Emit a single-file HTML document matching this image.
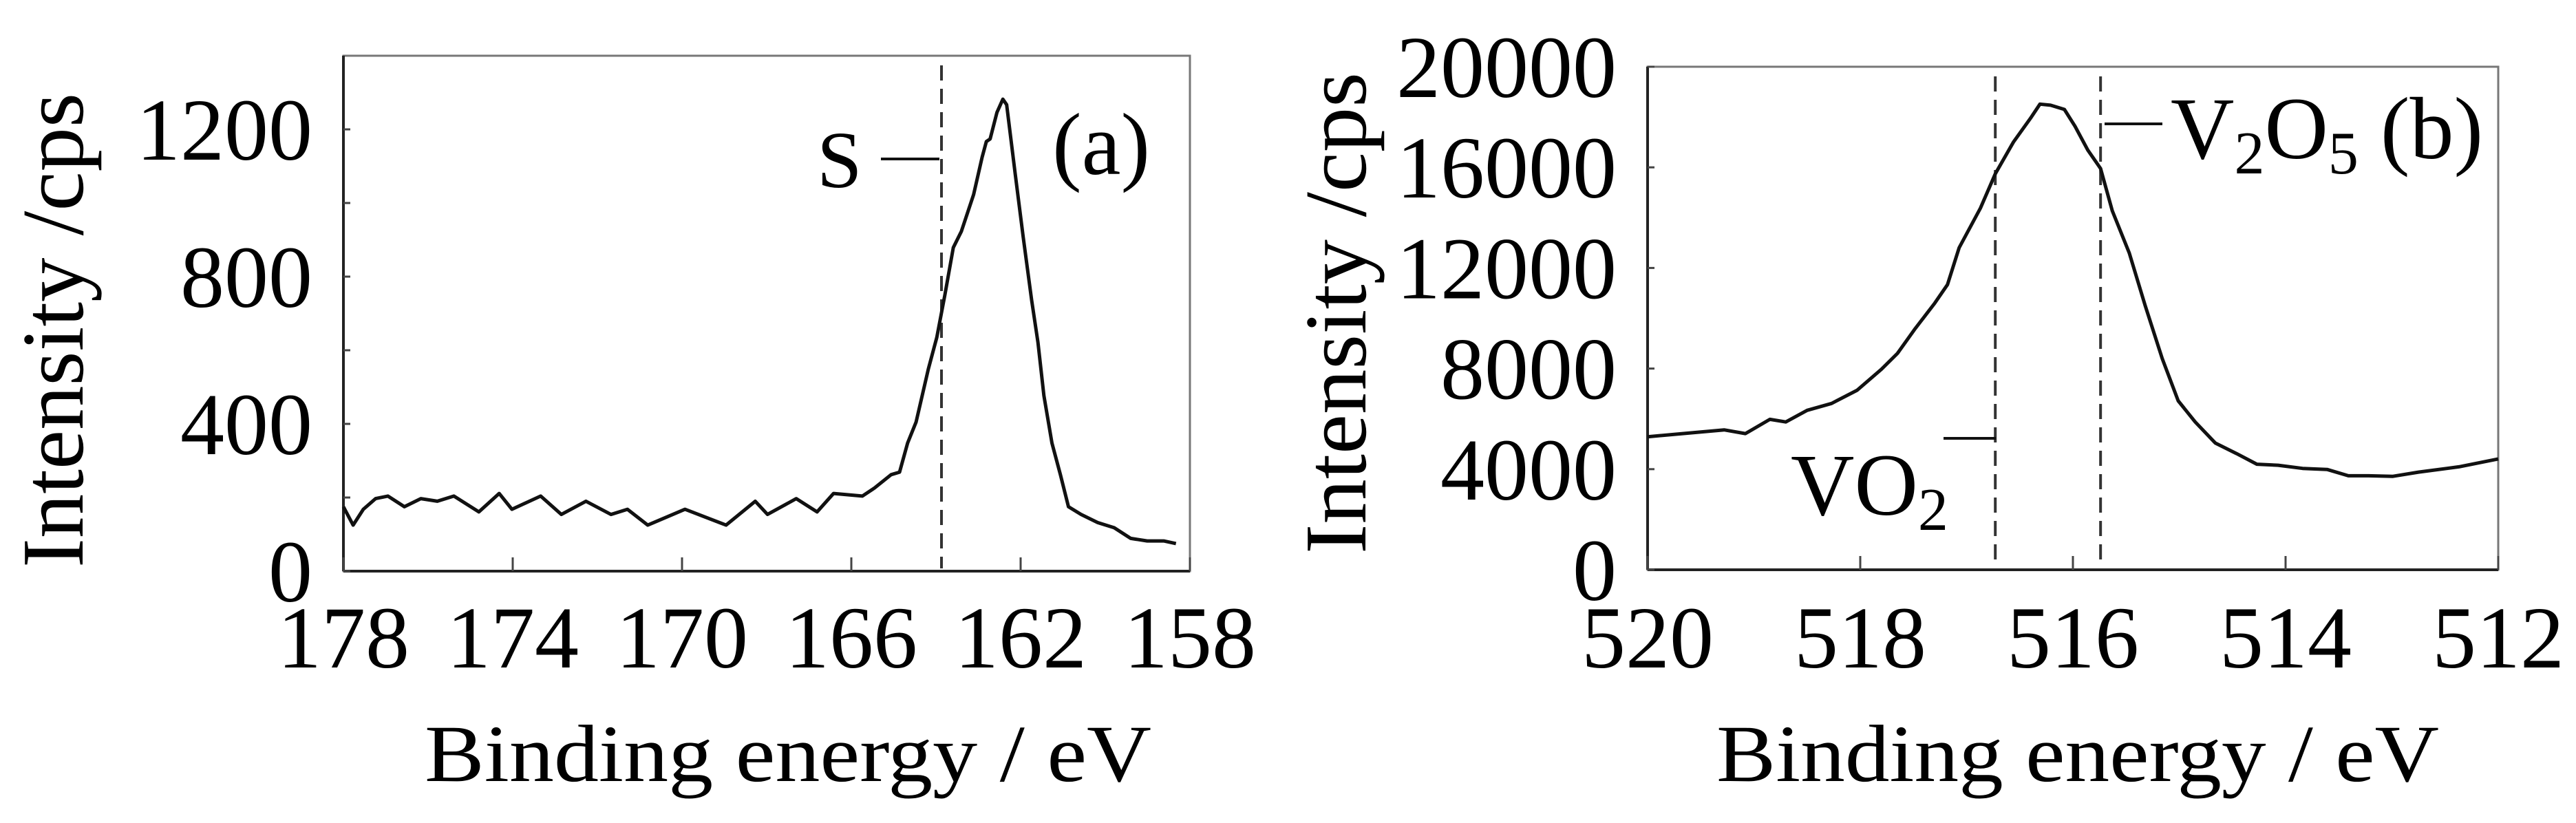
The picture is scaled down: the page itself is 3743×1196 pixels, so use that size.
<!DOCTYPE html>
<html><head><meta charset="utf-8"><style>
html,body{margin:0;padding:0;background:#fff;}
svg{display:block;font-family:"Liberation Serif",serif;}
</style></head><body>
<svg id="chart" width="3743" height="1196" viewBox="0 0 3743 1196" xmlns="http://www.w3.org/2000/svg">
<g id="pa"></g>
<g id="pb"></g>
</svg>
<script>
const aEnergy=[178.00,177.77,177.53,177.24,176.95,176.56,176.17,175.78,175.39,174.80,174.32,174.02,173.34,172.85,172.27,171.68,171.29,170.81,169.93,168.96,168.27,167.98,167.30,166.81,166.42,165.74,165.45,165.06,164.86,164.67,164.47,164.18,163.98,163.79,163.59,163.40,163.11,162.91,162.81,162.72,162.56,162.42,162.33,162.13,161.94,161.74,161.59,161.45,161.26,161.06,160.87,160.57,160.18,159.79,159.40,159.01,158.62,158.33];
const aIntensity=[175,125,168,197,204,175,197,190,204,161,211,168,204,154,190,154,168,125,168,125,190,154,197,161,211,204,226,262,269,348,405,549,635,750,879,923,1023,1124,1167,1174,1246,1282,1267,1081,908,736,621,477,348,262,175,154,132,118,89,82,82,75];
const aXTicks=[178,174,170,166,162,158];
const aYTicks=[0,400,800,1200];
const aYMinor=[200,600,1000];
const aRefLines=[163.87];

const bEnergy=[520.00,519.67,519.28,519.08,518.85,518.70,518.50,518.27,518.03,517.80,517.65,517.49,517.30,517.18,517.07,516.87,516.73,516.56,516.40,516.31,516.21,516.08,515.98,515.86,515.74,515.63,515.47,515.32,515.16,515.01,514.85,514.66,514.46,514.27,514.07,513.84,513.61,513.41,513.22,512.99,512.75,512.37,512.00];
const bIntensity=[5290,5415,5562,5415,5982,5877,6339,6612,7137,7976,8606,9550,10600,11335,12804,14378,15743,17002,17946,18513,18471,18303,17632,16687,15953,14273,12594,10495,8396,6717,5877,5038,4618,4198,4156,4030,3988,3736,3736,3715,3883,4093,4408];
const bXTicks=[520,518,516,514,512];
const bYTicks=[0,4000,8000,12000,16000,20000];
const bRefLines=[516.73,515.74];

const NS="http://www.w3.org/2000/svg";
function el(p,tag,attrs,txt){const e=document.createElementNS(NS,tag);for(const k in attrs)e.setAttribute(k,attrs[k]);if(txt!==undefined)e.textContent=txt;p.appendChild(e);return e;}

function panel(g,cfg){
  const X=v=>cfg.L+(cfg.x0-v)/(cfg.x0-cfg.x1)*(cfg.R-cfg.L);
  const Y=v=>cfg.B-(v-cfg.y0)/(cfg.y1-cfg.y0)*(cfg.B-cfg.T);
  let r=el(g,'rect',{x:cfg.L,y:cfg.T,width:cfg.R-cfg.L,height:cfg.B-cfg.T,fill:'none',stroke:'#777','stroke-width':3});
  
  
  let ax=el(g,'line',{x1:cfg.L,y1:cfg.T,x2:cfg.L,y2:cfg.B,stroke:'#222','stroke-width':4});
  
  
  let bx=el(g,'line',{x1:cfg.L,y1:cfg.B,x2:cfg.R,y2:cfg.B,stroke:'#222','stroke-width':4});
  
  
  cfg.xt.forEach(v=>{
    const x=X(v);
    let t=el(g,'line',{x1:x,y1:cfg.B,x2:x,y2:cfg.B-20,stroke:'#444','stroke-width':3});
    
    
    let l=el(g,'text',{x:x,y:970,'font-size':128,'text-anchor':'middle'},String(v));
    
    
  });
  cfg.yt.forEach(v=>{
    const y=Y(v);
    let t=el(g,'line',{x1:cfg.L,y1:y,x2:cfg.L+10,y2:y,stroke:'#444','stroke-width':3});
    
    
    let l=el(g,'text',{x:cfg.L-45,y:y+44,'font-size':128,'text-anchor':'end'},String(v));
    
    
  });
  (cfg.ym||[]).forEach(v=>{
    const y=Y(v);
    let t=el(g,'line',{x1:cfg.L,y1:y,x2:cfg.L+10,y2:y,stroke:'#444','stroke-width':3});
    
    
  });
  cfg.refs.forEach(v=>{
    const x=X(v);
    let d=el(g,'line',{x1:x,y1:cfg.T+14,x2:x,y2:cfg.B-4,stroke:'#333','stroke-width':4,'stroke-dasharray':'22,12'});
    
    
  });
  const pts=cfg.ex.map((e,i)=>X(e).toFixed(1)+','+Y(cfg.iy[i]).toFixed(1)).join(' ');
  let p=el(g,'polyline',{points:pts,fill:'none',stroke:'#111','stroke-width':5,'stroke-linejoin':'round'});
  
  
  let yl=el(g,'text',{x:0,y:0,'font-size':128,'text-anchor':'middle',transform:`translate(${cfg.ylx},${cfg.ylc}) rotate(-90)`,textLength:cfg.yll,lengthAdjust:'spacingAndGlyphs'},'Intensity /cps');
  
  
  let xl=el(g,'text',{x:cfg.xlx,y:1135,'font-size':118,textLength:cfg.xll,lengthAdjust:'spacingAndGlyphs'},'Binding energy / eV');
  
  
}
const pa=document.getElementById('pa'), pb=document.getElementById('pb');
panel(pa,{L:499,R:1729,T:81,B:830,x0:178,x1:158,y0:0,y1:1400,xt:aXTicks,yt:aYTicks,ym:aYMinor,refs:aRefLines,ex:aEnergy,iy:aIntensity,ylx:120,ylc:480,yll:690,xlx:617,xll:1056});
panel(pb,{L:2394,R:3630,T:97,B:828,x0:520,x1:512,y0:0,y1:20000,xt:bXTicks,yt:bYTicks,refs:bRefLines,ex:bEnergy,iy:bIntensity,ylx:1984,ylc:455,yll:700,xlx:2494,xll:1050});

let s=el(pa,'text',{x:1187,y:272,'font-size':118},'S');


let sl=el(pa,'line',{x1:1280,y1:231,x2:1365,y2:231,stroke:'#111','stroke-width':4});


let a=el(pa,'text',{x:1529,y:253,'font-size':128},'(a)');



let vl=el(pb,'line',{x1:3058,y1:180,x2:3142,y2:180,stroke:'#111','stroke-width':4});


let v=el(pb,'text',{x:3154,y:230,'font-size':128});


v.innerHTML='V<tspan font-size="88" dy="22">2</tspan><tspan dy="-22">O</tspan><tspan font-size="88" dy="22">5</tspan><tspan dy="-22"> (b)</tspan>';
let vo=el(pb,'text',{x:2602,y:748,'font-size':128});


vo.innerHTML='VO<tspan font-size="88" dy="22">2</tspan>';
let vol=el(pb,'line',{x1:2824,y1:637,x2:2900,y2:637,stroke:'#111','stroke-width':4});


</script>
</body></html>
